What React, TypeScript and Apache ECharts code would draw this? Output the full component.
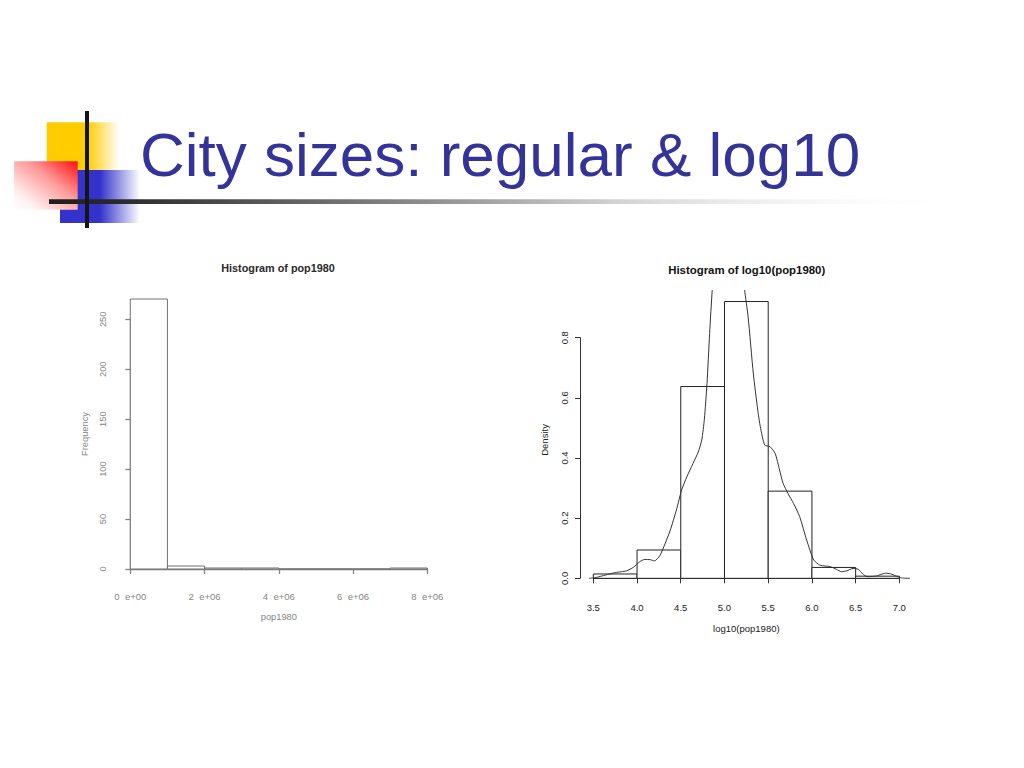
import React, { useEffect, useRef } from "react";
import * as echarts from "echarts";

// ---------- data ----------
const leftBreaks = [0, 1e6, 2e6, 3e6, 4e6, 5e6, 6e6, 7e6, 8e6];
const leftCounts = [270, 3, 1, 1, 0, 0, 0, 1];
const leftXTickLabels = ["0  e+00", "2  e+06", "4  e+06", "6  e+06", "8  e+06"];

const rightBreaks = [3.5, 4.0, 4.5, 5.0, 5.5, 6.0, 6.5, 7.0];
const rightDensity = [0.0145, 0.0942, 0.6377, 0.9203, 0.2899, 0.0362, 0.0072];

const densityX = [
  3.45, 3.52, 3.6, 3.68, 3.75, 3.82, 3.88, 3.96, 4.03, 4.09, 4.15, 4.2, 4.26,
  4.32, 4.38, 4.45, 4.51, 4.57, 4.64, 4.7, 4.74, 4.77, 4.8, 4.83, 4.86, 4.9,
  4.97, 5.05, 5.13, 5.2, 5.23, 5.27, 5.33, 5.38, 5.41, 5.46, 5.52, 5.58, 5.63,
  5.67, 5.73, 5.79, 5.86, 5.94, 6.02, 6.09, 6.15, 6.21, 6.28, 6.34, 6.4, 6.47,
  6.53, 6.58, 6.63, 6.69, 6.74, 6.79, 6.84, 6.9, 6.96, 7.01, 7.06, 7.12,
];
const densityY = [
  0.0, 0.002, 0.008, 0.014, 0.019, 0.022, 0.025, 0.037, 0.055, 0.063, 0.062,
  0.058, 0.075, 0.115, 0.16, 0.227, 0.294, 0.338, 0.382, 0.42, 0.46, 0.53,
  0.648, 0.814, 0.96, 1.1, 1.22, 1.25, 1.18, 1.03, 0.958, 0.87, 0.68, 0.56,
  0.504, 0.443, 0.438, 0.415, 0.36, 0.316, 0.28, 0.249, 0.205, 0.127, 0.061,
  0.044, 0.041, 0.039, 0.03, 0.022, 0.025, 0.033, 0.03, 0.015, 0.0055, 0.006,
  0.008, 0.013, 0.017, 0.015, 0.008, 0.002, 0.0005, 0.0,
];

const TITLE = "City sizes: regular & log10";

function histSeries(breaks: number[], values: number[], xIdx: number, stroke: string) {
  const data = values.map((v, i) => [breaks[i], breaks[i + 1], v]);
  return {
    type: "custom",
    xAxisIndex: xIdx,
    yAxisIndex: xIdx,
    encode: { x: [0, 1], y: 2 },
    data,
    renderItem: (_p: any, api: any) => {
      const a = api.coord([api.value(0), api.value(2)]);
      const b = api.coord([api.value(1), 0]);
      return {
        type: "rect",
        shape: { x: a[0], y: a[1], width: b[0] - a[0], height: b[1] - a[1] },
        style: { fill: "#ffffff", stroke, lineWidth: 1 },
      };
    },
  };
}

function nameOnly(name: string, gap: number, color: string, size: number, rotate?: number) {
  return {
    show: true,
    axisLine: { show: false },
    axisTick: { show: false },
    axisLabel: { show: false },
    splitLine: { show: false },
    name,
    nameLocation: "middle",
    nameGap: gap,
    nameRotate: rotate,
    nameTextStyle: { color, fontFamily: "Liberation Sans", fontSize: size },
  };
}

export default function App() {
  const ref = useRef<HTMLDivElement>(null);
  useEffect(() => {
    if (!ref.current) return;
    const chart = echarts.init(ref.current, undefined, { renderer: "svg" });
    const F = "Liberation Sans";
    const leftGray = "#858585";
    const rightDark = "#222";

    const option: any = {
      animation: false,
      backgroundColor: "#ffffff",
      grid: [
        { left: 130.3, top: 319.3, width: 297, height: 249.7 },
        { left: 118.4, top: 288.2, width: 320.8, height: 291.6 },
        { left: 593.3, top: 337.7, width: 306, height: 240.6 },
        { left: 581.1, top: 290.5, width: 330.5, height: 298.9 },
      ],
      xAxis: [
        {
          type: "value", gridIndex: 0, min: 0, max: 8e6, interval: 2e6, offset: 11,
          axisLine: { lineStyle: { color: leftGray, width: 1.3 } },
          axisTick: { length: 5, lineStyle: { color: leftGray, width: 1.3 } },
          splitLine: { show: false },
          axisLabel: {
            color: leftGray, fontFamily: F, fontSize: 9.5, margin: 11,
            formatter: (v: number) => leftXTickLabels[Math.round(v / 2e6)] ?? "",
          },
        },
        {
          type: "value", gridIndex: 1, min: -0.32e6, max: 8.32e6,
          ...nameOnly("pop1980", 32.7, leftGray, 9.3),
        },
        {
          type: "value", gridIndex: 2, min: 3.5, max: 7.0, interval: 0.5, offset: 11.7,
          axisLine: { lineStyle: { color: "#333", width: 1 } },
          axisTick: { length: 5, lineStyle: { color: "#333" } },
          splitLine: { show: false },
          axisLabel: {
            color: rightDark, fontFamily: F, fontSize: 9.5, margin: 12,
            formatter: (v: number) => v.toFixed(1),
          },
        },
        {
          type: "value", gridIndex: 3, min: 3.36, max: 7.14,
          ...nameOnly("log10(pop1980)", 34, rightDark, 9.5),
        },
      ],
      yAxis: [
        {
          type: "value", gridIndex: 0, min: 0, max: 250, interval: 50, offset: 12.6,
          axisLine: { show: true, lineStyle: { color: leftGray, width: 1.3 } },
          axisTick: { show: true, length: 5, lineStyle: { color: leftGray, width: 1.3 } },
          splitLine: { show: false },
          axisLabel: { color: leftGray, fontFamily: F, fontSize: 9.3, margin: 10, rotate: 90 },
        },
        {
          type: "value", gridIndex: 1, min: -10.8, max: 280.8,
          ...nameOnly("Frequency", 29, leftGray, 9.3, 90),
        },
        {
          type: "value", gridIndex: 2, min: 0, max: 0.8, interval: 0.2, offset: 13.3,
          axisLine: { show: true, lineStyle: { color: "#333", width: 1 } },
          axisTick: { show: true, length: 5, lineStyle: { color: "#333" } },
          splitLine: { show: false },
          axisLabel: {
            color: rightDark, fontFamily: F, fontSize: 9.5, margin: 11, rotate: 90,
            formatter: (v: number) => v.toFixed(1),
          },
        },
        {
          type: "value", gridIndex: 3, min: -0.0368, max: 0.957,
          ...nameOnly("Density", 31.4, rightDark, 9.5, 90),
        },
      ],
      series: [
        histSeries(leftBreaks, leftCounts, 1, "#707070"),
        histSeries(rightBreaks, rightDensity, 3, "#222"),
        {
          type: "line",
          xAxisIndex: 3,
          yAxisIndex: 3,
          data: densityX.map((x, i) => [x, densityY[i]]),
          smooth: 0.2,
          showSymbol: false,
          symbol: "none",
          clip: true,
          lineStyle: { color: "#333", width: 1 },
          z: 5,
        },
      ],
      graphic: [
        // decoration
        {
          type: "rect", z: 1,
          shape: { x: 46.7, y: 122.3, width: 73, height: 48 },
          style: {
            fill: new echarts.graphic.LinearGradient(0, 0, 1, 0, [
              { offset: 0, color: "#FFCC00" },
              { offset: 0.55, color: "#FFCC00" },
              { offset: 1, color: "rgba(255,204,0,0)" },
            ]),
          },
        },
        {
          type: "rect", z: 2,
          shape: { x: 60, y: 170, width: 80, height: 53 },
          style: {
            fill: new echarts.graphic.LinearGradient(0, 0, 1, 0, [
              { offset: 0, color: "#3333CC" },
              { offset: 0.5, color: "#3333CC" },
              { offset: 1, color: "rgba(51,51,204,0)" },
            ]),
          },
        },
        {
          type: "rect", z: 3,
          shape: { x: 14, y: 161.3, width: 63.7, height: 48.5 },
          style: {
            fill: new echarts.graphic.LinearGradient(0, 1, 1, 0, [
              { offset: 0, color: "#ffffff" },
              { offset: 0.2, color: "#fff0f0" },
              { offset: 0.6, color: "#ff9a9a" },
              { offset: 1, color: "#ff1010" },
            ]),
          },
        },
        {
          type: "rect", z: 4,
          shape: { x: 49, y: 199.3, width: 916, height: 4.6 },
          style: {
            fill: new echarts.graphic.LinearGradient(0, 0, 1, 0, [
              { offset: 0, color: "#1e1e1e" },
              { offset: 0.08, color: "#2a2a2a" },
              { offset: 0.4, color: "#8a8a8a" },
              { offset: 0.62, color: "#d2d2d2" },
              { offset: 1, color: "rgba(255,255,255,0)" },
            ]),
          },
        },
        {
          type: "line", z: 5,
          shape: { x1: 87, y1: 111, x2: 87, y2: 228 },
          style: { stroke: "#151515", lineWidth: 4 },
        },
        {
          type: "text", z: 6, x: 140, y: 154,
          style: {
            text: TITLE, fill: "#333399", fontFamily: F, fontSize: 62,
            align: "left", verticalAlign: "middle",
          },
        },
        {
          type: "text", x: 278, y: 268.3,
          style: {
            text: "Histogram of pop1980", fill: "#2a2a2a", fontFamily: F,
            fontSize: 10.8, fontWeight: "bold", align: "center", verticalAlign: "middle",
          },
        },
        {
          type: "text", x: 746.7, y: 270,
          style: {
            text: "Histogram of log10(pop1980)", fill: "#111", fontFamily: F,
            fontSize: 11.4, fontWeight: "bold", align: "center", verticalAlign: "middle",
          },
        },
      ],
    };
    chart.setOption(option);
    return () => chart.dispose();
  }, []);
  return (
    <div
      ref={ref}
      style={{ position: "absolute", left: 0, top: 0, width: 1024, height: 768, background: "#fff" }}
    />
  );
}
